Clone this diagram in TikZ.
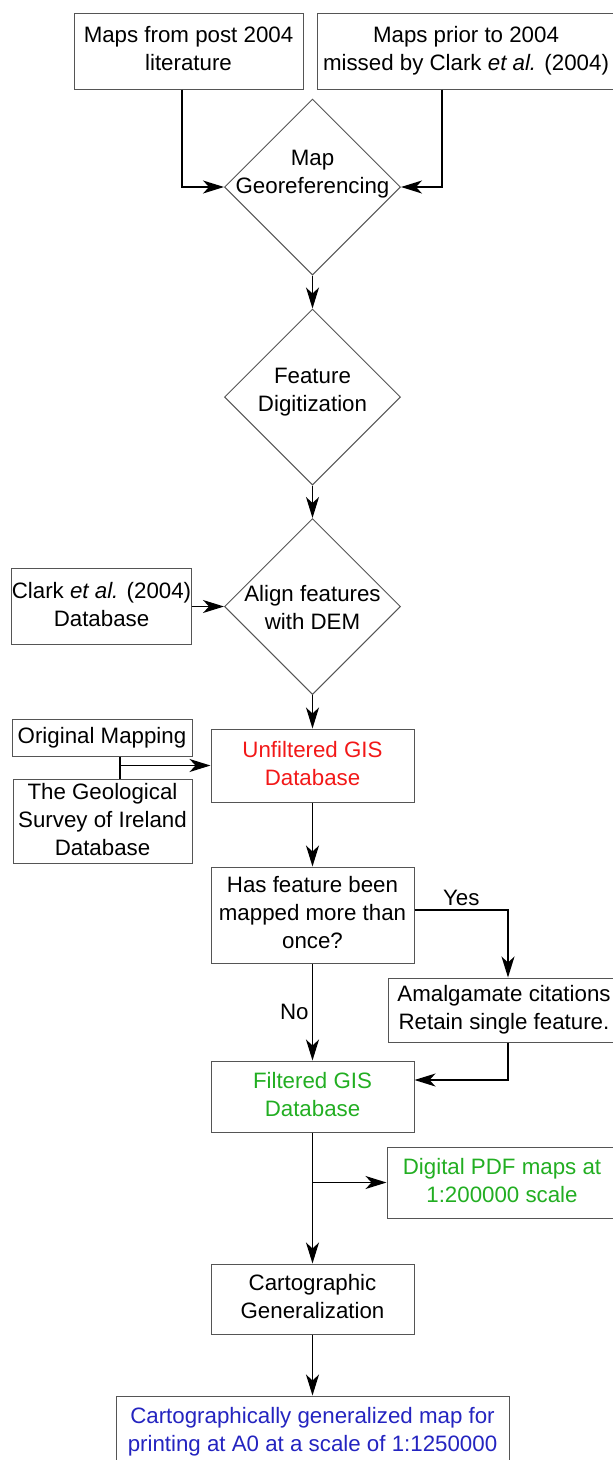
\documentclass[tikz,border=0pt]{standalone}
\usepackage{fontspec}
\setmainfont{Liberation Sans}
\usepackage{tikz}
\usetikzlibrary{shapes.geometric, arrows.meta}
\definecolor{edge}{HTML}{555555}
\definecolor{red}{HTML}{F21818}
\definecolor{green}{HTML}{22AE22}
\definecolor{blue}{HTML}{2424C0}
\setlength{\tabcolsep}{0pt}
\tikzstyle{process} = [rectangle, minimum height=70pt, inner sep=0pt, text centered, draw=edge, line width=1pt]
\tikzstyle{decision} = [diamond, minimum width=176pt, minimum height=176pt, inner sep=0pt, text centered, draw=edge, line width=1pt]
\tikzstyle{arrow} = [line width=1.3pt, -{Stealth[length=21pt, width=13pt, inset=6pt]}]
\tikzstyle{line} = [line width=1.3pt]
\newcommand{\dtext}[2][0pt]{\smash{\raisebox{#1}{\makebox[0pt]{\begin{tabular}{c}#2\end{tabular}}}}}

\begin{document}
\begin{tikzpicture}[x=1pt, y=-1pt, font=\fontsize{22.3}{28}\selectfont]
  \useasboundingbox (0,0) rectangle (613,1460);
  \clip (0,0) rectangle (613,1460);

  \node (post) [process, minimum width=229pt, minimum height=76pt] at (188.5,51) {\begin{tabular}{c} Maps from post 2004\\ literature \end{tabular}};
  \node (prior) [process, minimum width=298pt, minimum height=76pt] at (466,51) {\begin{tabular}{c} Maps prior to 2004\\ missed by Clark \textit{et al.} (2004) \end{tabular}};
  \node (georef) [decision] at (312.5,187) {\dtext[8pt]{Map\\ Georeferencing}};
  \node (digit) [decision] at (312.5,397) {\dtext{Feature\\ Digitization}};
  \node (align) [decision] at (312.5,606.5) {\dtext[-9pt]{Align features\\ with DEM}};
  \node (clark) [process, minimum width=179pt, minimum height=76pt] at (101.5,606.5) {\begin{tabular}{c} Clark \textit{et al.} (2004)\\ Database \end{tabular}};

  \node (orig) [process, minimum width=180pt, minimum height=37pt] at (102,737.5) {Original Mapping};
  \node (gsi) [process, minimum width=179pt, minimum height=83pt] at (102.5,821.5) {\begin{tabular}{c} The Geological\\ Survey of Ireland\\ Database \end{tabular}};
  \node (unfilt) [process, minimum width=203pt, minimum height=73pt, text=red] at (312.5,765.5) {\begin{tabular}{c} Unfiltered GIS\\ Database \end{tabular}};
  \node (once) [process, minimum width=203pt, minimum height=96pt] at (312.5,915) {\begin{tabular}{c} Has feature been\\ mapped more than\\ once? \end{tabular}};
  \node (amal) [process, minimum width=232pt, minimum height=64pt] at (504,1010) {\begin{tabular}{c} Amalgamate citations\\ Retain single feature. \end{tabular}};
  \node (filt) [process, minimum width=203pt, minimum height=71pt, text=green] at (312.5,1096.5) {\begin{tabular}{c} Filtered GIS\\ Database \end{tabular}};
  \node (pdf) [process, minimum width=230pt, minimum height=71pt, text=green] at (502,1182.5) {\begin{tabular}{c} Digital PDF maps at\\ 1:200000 scale \end{tabular}};
  \node (carto) [process, minimum width=203pt, minimum height=70pt] at (312.5,1299) {\begin{tabular}{c} Cartographic\\ Generalization \end{tabular}};
  \node (final) [process, minimum width=393pt, minimum height=72pt, text=blue] at (312.5,1432) {\begin{tabular}{c} Cartographically generalized map for\\ printing at A0 at a scale of 1:1250000 \end{tabular}};

  \coordinate (join) at ([xshift=18pt]orig.south);

  \draw [arrow] ([xshift=-6.5pt]post.south) |- (georef.west);
  \draw [arrow] ([xshift=-24pt]prior.south) |- (georef.east);
  \draw [arrow] (georef) -- (digit);
  \draw [arrow] (digit) -- (align);
  \draw [arrow] (clark) -- (align);
  \draw [arrow] (align) -- (unfilt);
  \draw [line] (join) -- (join |- gsi.north);
  \draw [arrow] (join |- unfilt.west) -- (unfilt.west);
  \draw [arrow] (unfilt) -- (once);
  \draw [arrow] ([yshift=5pt]once.east) -| node[pos=0.25, above] {Yes} ([xshift=4pt]amal.north);
  \draw [arrow] (once) -- node[left] {No} (filt);
  \draw [arrow] ([xshift=4pt]amal.south) |- ([yshift=16.5pt]filt.east);
  \draw [arrow] (filt) -- (carto);
  \draw [arrow] (filt.south |- pdf.west) -- (pdf.west);
  \draw [arrow] (carto) -- (final);
\end{tikzpicture}
\end{document}
